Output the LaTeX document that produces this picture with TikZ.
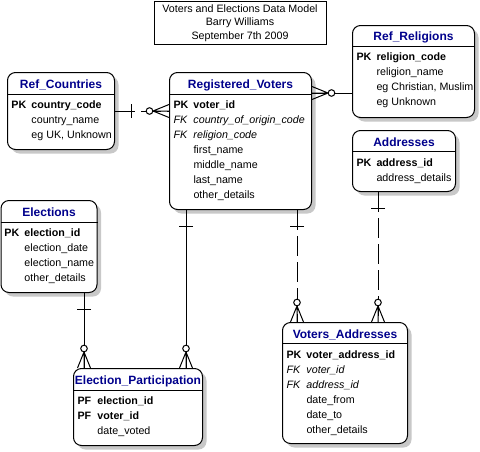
\documentclass[tikz,border=0pt]{standalone}
\usepackage{fontspec}
\setmainfont{Liberation Sans}
\usetikzlibrary{calc,shadows}
\definecolor{headblue}{RGB}{0,0,140}
\definecolor{shadowgrey}{RGB}{200,200,200}
\newcommand{\pkey}[1]{\makebox[20pt][l]{\bfseries PK}\textbf{#1}}
\newcommand{\pfkey}[1]{\makebox[20pt][l]{\bfseries PF}\textbf{#1}}
\newcommand{\fkey}[1]{\makebox[20pt][l]{\itshape FK}\textit{#1}}
\newcommand{\attr}[1]{\makebox[20pt][l]{}#1}

\begin{document}
\begin{tikzpicture}[x=1pt, y=-1pt, line width=1pt,
    entity/.style={draw, rounded corners=8pt, fill=white, anchor=north west, inner sep=0,
      drop shadow={shadow xshift=4pt, shadow yshift=-4pt, fill=shadowgrey, opacity=1}},
    head/.style={anchor=base, inner sep=0, text=headblue, font=\fontsize{12}{14}\selectfont\bfseries},
    body/.style={anchor=base west, inner sep=0, font=\fontsize{10.7}{15}\selectfont},
    idline/.style={draw},
    fkline/.style={draw, dash pattern=on 20pt off 6pt},
    pics/one/.style={code={\draw[solid] (16,-7) -- (16,7);}},
    pics/zeromany/.style={code={
      \draw[solid] (0,-6.5) -- (16,0) -- (0,6.5) (0,0) -- (16,0);
      \draw[solid, fill=white] (19.5,0) circle[radius=3.3];}}]
  \useasboundingbox (0,0) rectangle (480,451);

  % title
  \node[draw, anchor=north west, minimum width=172pt, minimum height=42.5pt, align=center,
    font=\fontsize{10.7}{13.5}\selectfont] (title) at (153.5,0.5)
    {Voters and Elections Data Model\\Barry Williams\\September 7th 2009};

  % Ref_Countries
  \node[entity, minimum width=107pt, minimum height=77pt] (rc) at (7,72) {};
  \node[head] (rch) at ($(rc.north)+(0,16)$) {Ref\_Countries};
  \draw ($(rc.north west)+(0,22)$) -- ($(rc.north east)+(0,22)$);
  \node[body] (rcb) at ($(rc.north west)+(4,36.5)$) {\begin{tabular}[t]{@{}l@{}}
    \pkey{country\_code}\\ \attr{country\_name}\\ \attr{eg UK, Unknown}\end{tabular}};

  % Registered_Voters
  \node[entity, minimum width=142pt, minimum height=137pt] (rv) at (169,72) {};
  \node[head] (rvh) at ($(rv.north)+(0,16)$) {Registered\_Voters};
  \draw ($(rv.north west)+(0,22)$) -- ($(rv.north east)+(0,22)$);
  \node[body] (rvb) at ($(rv.north west)+(4,36.5)$) {\begin{tabular}[t]{@{}l@{}}
    \pkey{voter\_id}\\ \fkey{country\_of\_origin\_code}\\ \fkey{religion\_code}\\
    \attr{first\_name}\\ \attr{middle\_name}\\ \attr{last\_name}\\ \attr{other\_details}\end{tabular}};

  % Ref_Religions
  \node[entity, minimum width=122pt, minimum height=92pt] (rr) at (352,25) {};
  \node[head] (rrh) at ($(rr.north)+(0,15.5)$) {Ref\_Religions};
  \draw ($(rr.north west)+(0,21)$) -- ($(rr.north east)+(0,21)$);
  \node[body] (rrb) at ($(rr.north west)+(4,35.5)$) {\begin{tabular}[t]{@{}l@{}}
    \pkey{religion\_code}\\ \attr{religion\_name}\\ \attr{eg Christian, Muslim}\\ \attr{eg Unknown}\end{tabular}};

  % Addresses
  \node[entity, minimum width=103pt, minimum height=61pt] (ad) at (352,130) {};
  \node[head] (adh) at ($(ad.north)+(0,16)$) {Addresses};
  \draw ($(ad.north west)+(0,21.5)$) -- ($(ad.north east)+(0,21.5)$);
  \node[body] (adb) at ($(ad.north west)+(4,36)$) {\begin{tabular}[t]{@{}l@{}}
    \pkey{address\_id}\\ \attr{address\_details}\end{tabular}};

  % Elections
  \node[entity, minimum width=96pt, minimum height=92pt] (el) at (0.5,200) {};
  \node[head] (elh) at ($(el.north)+(0,16)$) {Elections};
  \draw ($(el.north west)+(0,22)$) -- ($(el.north east)+(0,22)$);
  \node[body] (elb) at ($(el.north west)+(3.5,36.5)$) {\begin{tabular}[t]{@{}l@{}}
    \pkey{election\_id}\\ \attr{election\_date}\\ \attr{election\_name}\\ \attr{other\_details}\end{tabular}};

  % Election_Participation
  \node[entity, minimum width=129pt, minimum height=77pt] (ep) at (73,368) {};
  \node[head] (eph) at ($(ep.north)+(0,16)$) {Election\_Participation};
  \draw ($(ep.north west)+(0,22)$) -- ($(ep.north east)+(0,22)$);
  \node[body] (epb) at ($(ep.north west)+(4,36.5)$) {\begin{tabular}[t]{@{}l@{}}
    \pfkey{election\_id}\\ \pfkey{voter\_id}\\ \attr{date\_voted}\end{tabular}};

  % Voters_Addresses
  \node[entity, minimum width=125pt, minimum height=121pt] (va) at (282,322) {};
  \node[head] (vah) at ($(va.north)+(0,16)$) {Voters\_Addresses};
  \draw ($(va.north west)+(0,21.5)$) -- ($(va.north east)+(0,21.5)$);
  \node[body] (vab) at ($(va.north west)+(4,36)$) {\begin{tabular}[t]{@{}l@{}}
    \pkey{voter\_address\_id}\\ \fkey{voter\_id}\\ \fkey{address\_id}\\
    \attr{date\_from}\\ \attr{date\_to}\\ \attr{other\_details}\end{tabular}};

  % relationships
  \coordinate (c1) at (0,111);
  \coordinate (c2) at (0,93);
  \coordinate (c3) at (186,0);
  \coordinate (c4) at (84,0);
  \coordinate (c5) at (297,0);
  \coordinate (c6) at (378,0);

  \path[fkline] (rc.east |- c1) -- (rv.west |- c1);
  \path (rc.east |- c1) pic{one};
  \path (rv.west |- c1) pic[rotate=180]{zeromany};

  \path[fkline] (rr.west |- c2) -- (rv.east |- c2);
  \path (rv.east |- c2) pic{zeromany};

  \path[idline] (c3 |- rv.south) -- (c3 |- ep.north);
  \path (c3 |- rv.south) pic[rotate=-90]{one};
  \path (c3 |- ep.north) pic[rotate=90]{zeromany};

  \path[idline] (c4 |- el.south) -- (c4 |- ep.north);
  \path (c4 |- el.south) pic[rotate=-90]{one};
  \path (c4 |- ep.north) pic[rotate=90]{zeromany};

  \path[fkline] (c5 |- rv.south) -- (c5 |- va.north);
  \path (c5 |- rv.south) pic[rotate=-90]{one};
  \path (c5 |- va.north) pic[rotate=90]{zeromany};

  \path[fkline] (c6 |- ad.south) -- (c6 |- va.north);
  \path (c6 |- ad.south) pic[rotate=-90]{one};
  \path (c6 |- va.north) pic[rotate=90]{zeromany};
\end{tikzpicture}
\end{document}
